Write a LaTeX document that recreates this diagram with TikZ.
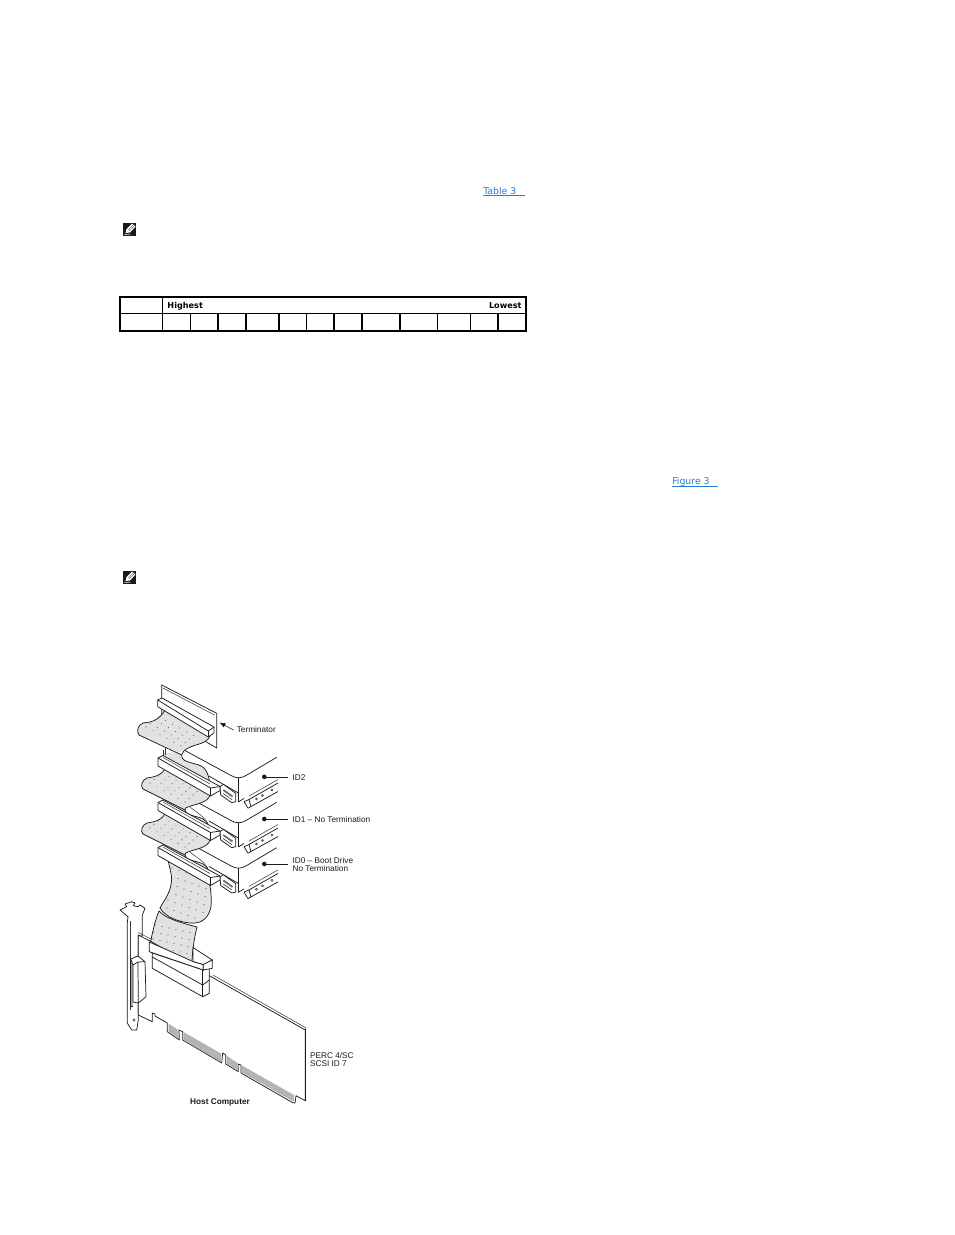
\documentclass[tikz,border=0pt]{standalone}
\usepackage{fontspec}
\usetikzlibrary{arrows.meta}
\setmainfont{Liberation Sans}
\newfontfamily\webfont{DejaVu Sans}
\definecolor{linkblue}{HTML}{2B7CD3}
\definecolor{ribbon}{HTML}{E2E2E2}
\definecolor{gold}{HTML}{B4B4B4}
\definecolor{ink}{HTML}{1A1A1A}
\tikzset{
  px/.style={x=0.75pt,y=-0.75pt},
  outline/.style={draw=ink,line width=0.55pt,line join=round},
  thin outline/.style={draw=ink!85,line width=0.4pt,line join=round},
  part/.style={outline,fill=white},
  band/.style={fill=ribbon},
  callout/.style={font=\fontsize{6.2pt}{6.2pt}\selectfont,text=ink,inner sep=0pt,anchor=west},
  tablehead/.style={font=\webfont\bfseries\fontsize{6.1pt}{6.1pt}\selectfont,inner sep=0pt},
  linktext/.style={font=\webfont\fontsize{7pt}{7pt}\selectfont,text=linkblue,inner sep=0pt,anchor=west},
  linkline/.style={draw=linkblue,line width=0.7pt},
  tableframe/.style={draw=black,line width=1.35pt},
  tablerule/.style={draw=black,line width=0.85pt},
}
\newcommand{\riserdot}[2]{\fill[ink!70] (#1,#2) circle[radius=0.55];}
% drive drawn with ID2 as base
\newcommand{\drivebody}[1]{%
 \begin{scope}[yshift={-0.75pt*(#1)}]
  \draw[outline] (184,750) -- (231,775.5) .. controls (236,778.5) and (241,778.5) .. (246,775.5) -- (276.7,757.3);
  \draw[outline] (238.3,778) -- (238.3,802);
  \draw[outline] (209,776) -- (238.3,793);
  \draw[part] (220,786.7) -- (223.3,784.3) -- (235.7,793.3) -- (235.7,801.7) -- (231.7,802.6) -- (220.7,795) -- cycle;
  \draw[ink!65,line width=1.3pt] (223.3,790) -- (232.5,796.5);
  \draw[ink,line width=0.4pt] (223,793.5) -- (232,799.6);
  \draw[outline] (238.3,802) -- (244,798.5);
  \draw[outline] (244,801.7) -- (249,799.5) -- (278,783);
  \draw[outline] (244,801.7) -- (248,808.2) -- (278,791.5);
  \draw[outline] (249,799.5) -- (251,806.7);
  \draw[thin outline] (249,796) -- (278,779.5);
  \draw[thin outline] (256.5,799) circle[radius=1.1];
  \draw[thin outline] (262.5,795.5) circle[radius=1.1];
  \draw[thin outline] (272,790) circle[radius=1.1];
 \end{scope}}
% drive-end connector on the ribbon, with ID1 connector as base
\newcommand{\cable}[1]{%
 \begin{scope}[yshift={-0.75pt*(#1)}]
  % lower loop behind the next connector
  \path[band] (165,806) -- (185,808) .. controls (186,816) and (198,816) .. (203,819) .. controls (208,822) and (210,826) .. (210,838) -- (170,815) -- cycle;
  \draw[outline] (185,810) .. controls (186,816) and (198,816) .. (203,819) .. controls (208,822) and (210,826) .. (210,836);
  \draw[thin outline] (190,807) .. controls (196,812) and (204,816) .. (208,824);
  % upper lobe
  \path[band] (166,766) .. controls (163,776) and (153,777) .. (147,778) .. controls (142,780) and (140,786) .. (143,789) -- (185,810) .. controls (185,808) and (186,807.5) .. (188,807) .. controls (195,804) and (208,803) .. (210,795) -- cycle;
  \draw[outline] (166,766) .. controls (163,776) and (153,777) .. (147,778) .. controls (142,780) and (140,786) .. (143,789) -- (185,810) .. controls (185,808) and (186,807.5) .. (188,807) .. controls (195,804) and (208,803) .. (210,795);
  \foreach \i in {0,...,5} \foreach \j in {0,...,3} {
    \riserdot{150+\i*7+\j*4}{783+\i*3.8-\j*3.5}
  }
 \end{scope}}
\newcommand{\plug}[1]{%
 \begin{scope}[yshift={-0.75pt*(#1)}]
  \draw[part] (158,758) -- (163,755.5) -- (220,786.5) -- (220,790.5) -- (210.5,796) -- (158,766) -- cycle;
  \draw[outline] (158,758) -- (210.5,788) -- (220,786.5);
  \draw[outline] (210.5,788) -- (210.5,796);
  \draw[thin outline] (163,757.5) -- (210,784);
 \end{scope}}
\begin{document}
\begin{tikzpicture}[px]
\useasboundingbox (0,0) rectangle (954,1235);

% ---- links
\node[linktext] (tablelink) at (483,190.8) {Table 3};
\coordinate (tablelinkA) at (483,195);
\coordinate (tablelinkB) at (525,195);
\draw[linkline] (tablelinkA) -- (tablelinkB);
\node[linktext] (figlink) at (672,482.4) {Figure 3};
\coordinate (figlinkA) at (672,486.2);
\coordinate (figlinkB) at (718,486.2);
\draw[linkline] (figlinkA) -- (figlinkB);

% ---- note icons
\foreach \iy in {229.5,577.5} {
  \begin{scope}[shift={(129.5,\iy)}]
    \fill[ink] (-6.3,-6.3) rectangle (6.3,6.3);
    \fill[white] (-4,3.5) -- (-3,-0.5) -- (2.5,-6) -- (6,-3) -- (0.5,3) -- cycle;
    \draw[ink!70,line width=0.3pt] (-1.5,0.6) -- (3.5,-4.4) (-0.4,1.6) -- (4.5,-3.5);
    \draw[white,line width=0.4pt] (-5,5) -- (1,4.6);
  \end{scope}
}

% ---- table
\draw[tableframe] (119.8,297) rectangle (526.3,330.6);
\draw[tablerule] (119.8,313.3) -- (526.3,313.3);
\draw[tablerule] (162.3,297) -- (162.3,330.6);
\foreach \vx in {190.3,218,246,279,306.7,334,362,400,437.3,470.3,498} {
  \draw[tablerule] (\vx,313.3) -- (\vx,330.6);
}
\node[tablehead,anchor=west] (high) at (167.2,305.8) {Highest};
\node[tablehead,anchor=east] (low) at (521.8,305.8) {Lowest};

% ---- drives
\drivebody{0}
\drivebody{45}
\drivebody{90.4}

% ---- terminator plate
\draw[part] (161.7,685) -- (216.7,713.3) -- (216.7,748) -- (161.7,716) -- cycle;
\draw[thin outline] (163,688) -- (214.5,715);

% ---- ribbon 1
\path[band] (165,710) .. controls (158,722) and (150,722) .. (143,723) .. controls (138,725) and (136,731) .. (139,735) -- (182,754) -- (181.7,757) .. controls (183,764) and (198,762) .. (204,768) .. controls (208,772) and (210,780) .. (210,795) -- (164,768) -- (164,753) -- (181,752) .. controls (183,749) and (190,747) .. (196,745) .. controls (203,743) and (208,741) .. (210,736) -- cycle;
\draw[outline] (165,710) .. controls (158,722) and (150,722) .. (143,723) .. controls (138,725) and (136,731) .. (139,735) -- (181.7,755);
\draw[outline] (210,736) .. controls (208,741) and (203,743) .. (196,745) .. controls (190,747) and (183,749) .. (181.7,755) .. controls (181,764) and (198,762) .. (204,768) .. controls (208,772) and (210,780) .. (210,790);
\draw[thin outline] (163.5,750) -- (163.5,757);
\draw[thin outline] (165.5,748) -- (165.5,755);
\foreach \i in {0,...,5} \foreach \j in {0,...,3} {
  \riserdot{146+\i*7+\j*4.2}{727+\i*3.8-\j*3.5}
}

% ---- ribbons 2 and 3
\cable{0}
\cable{45}

% ---- last riser
\begin{scope}
 \path[clip] (160,855) -- (208,876) .. controls (210,885) and (212,895) .. (211,907) .. controls (208,920) and (200,924) .. (190,923) .. controls (180,922) and (166,918) .. (160,908) .. controls (163,902) and (169,895) .. (171,885) .. controls (173,878) and (170,870) .. (168,860) -- cycle;
 \fill[ribbon] (150,850) rectangle (220,930);
 \foreach \i in {0,...,5} \foreach \j in {0,...,7} {
   \riserdot{172+\i*7-\j*1}{868+\j*8+\i*2.5}
 }
\end{scope}
\draw[outline] (168,860) .. controls (170,870) and (173,878) .. (171,885) .. controls (169,895) and (163,902) .. (160,908) .. controls (166,918) and (180,922) .. (190,923) .. controls (200,924) and (208,920) .. (211,907) .. controls (212,895) and (210,885) .. (208,876);
\begin{scope}
 \path[clip] (159,911) .. controls (165,918) and (178,922) .. (197,927) .. controls (195,935) and (193,945) .. (192,962) -- (150,945) .. controls (152,935) and (155,920) .. (159,911) -- cycle;
 \fill[ribbon] (145,905) rectangle (200,965);
 \foreach \i in {0,...,5} \foreach \j in {0,...,4} {
   \riserdot{155+\i*7-\j*1}{925+\j*7+\i*1.5}
 }
\end{scope}
\draw[outline] (159,911) .. controls (165,918) and (178,922) .. (197,927) .. controls (195,935) and (193,945) .. (192,960);
\draw[outline] (159,911) .. controls (155,920) and (152,935) .. (150,944);

% ---- plugs on the ribbon
\draw[part] (157.7,700) -- (162,698) -- (214,727) -- (214,733) -- (208.3,737) -- (157.7,706.7) -- cycle;
\draw[outline] (157.7,700) -- (208.3,731) -- (214,727);
\draw[outline] (208.3,731) -- (208.3,737);
\plug{0}
\plug{44.5}
\plug{89.5}

% ---- bracket
\draw[part] (120,910) -- (126.7,906.7) -- (125,904) -- (131.7,901.7) -- (135,903) -- (133.3,905.7) -- (138,906.7) -- (140,905) -- (145,908.3) -- (142.3,915) -- (142.3,936) -- (138.3,936) -- (138.3,1020) -- (136.7,1030) -- (131.7,1030) -- (127.3,1023) -- (127.3,923) -- (128,916.7) -- cycle;
\draw[thin outline] (130,921) -- (130,1010);
\draw[thin outline] (134,1020) circle[radius=1.3];

% ---- board
\draw[part] (138.3,935) -- (152,942) -- (211.7,977) -- (305.3,1030) -- (305.3,1100.7) -- (296,1095.7) -- (295,1103) -- (292.7,1102.7) -- (241,1073) -- (241,1065) -- (238,1064) -- (238.3,1071.7) -- (225.7,1064) -- (225.7,1055) -- (222.7,1053) -- (221.7,1063) -- (182.7,1040) -- (182.7,1031.7) -- (179,1030) -- (179.3,1040) -- (167.3,1031.7) -- (167.3,1023) -- (155,1016) -- (155,1014) -- (152.3,1013) -- (152.3,1021.7) -- (138.3,1015) -- cycle;
\draw[thin outline] (138.3,932.5) -- (152,939.5);
\draw[thin outline] (213,975) -- (305.3,1027.5) -- (305.3,1030);
\draw[ink,line width=1.1pt] (305.3,1029) -- (305.3,1100.7);
\fill[gold] (168.5,1023.5) -- (178.5,1030) -- (178.5,1038.5) -- (168.5,1031.5) -- cycle;
\fill[gold] (183.5,1032) -- (221,1053.5) -- (221,1062) -- (183.5,1040) -- cycle;
\fill[gold] (226.5,1055.5) -- (237.5,1063) -- (237.5,1070.5) -- (226.5,1063.5) -- cycle;
\fill[gold] (242,1065.5) -- (294,1095) -- (294,1101.8) -- (242,1072.5) -- cycle;

% ---- D connector (in front of the board)
\fill[gold] (130.7,962) rectangle (133.2,1007);
\draw[part] (130.7,959) -- (138,956) -- (145,961.7) -- (146,996.7) -- (138.3,1003) -- (133,1002) -- (133,965) -- cycle;
\draw[outline] (130.7,959) -- (130.7,1007) -- (133,1006);
\draw[outline] (133,965) -- (138,962) -- (145,961.7);
\draw[outline] (138,962) -- (138.3,1003);

% ---- host connector
\draw[part] (152.3,953) -- (152.3,968.3) -- (202.7,996.7) -- (209.3,993.3) -- (209.3,968) -- (203.3,970) -- cycle;
\draw[outline] (152.3,957) -- (202.7,985) -- (209.3,980);
\draw[outline] (202.7,970) -- (202.7,996.7);
\draw[part] (149.3,942) -- (193,961.5) -- (203.3,964.5) -- (203.3,970) -- (149.3,951.7) -- cycle;
\draw[part] (193,947.5) -- (212.3,960) -- (203.3,964.5) -- (193,961.5) -- cycle;
\draw[part] (212.3,960) -- (212.3,968.3) -- (203.3,970) -- (203.3,964.5) -- cycle;

% ---- callouts
\node[callout] (term) at (236.5,730) {Terminator};
\coordinate (termtip) at (219.5,722.5);
\draw[ink,line width=0.4pt,-{Latex[length=4.5pt,width=3.5pt]}] (term.west) ++(-3,0) -- (termtip);

\node[callout] (id2) at (292.3,777.3) {ID2};
\node[callout] (id1) at (292.3,819.5) {ID1 – No Termination};
\node[callout,align=left,font=\fontsize{6.2pt}{6.1pt}\selectfont] (id0) at (292.3,864.3) {ID0 – Boot Drive\\No Termination};
\coordinate (d2) at (264.3,776.8);
\coordinate (d1) at (264.3,819);
\coordinate (d0) at (264.3,864);
\foreach \dotname in {d2,d1,d0} {
  \fill[ink] (\dotname) circle[radius=2.3];
  \draw[ink,line width=0.4pt] (\dotname) -- ++(24,0);
}

\node[callout,align=left,font=\fontsize{6.2pt}{6.2pt}\selectfont] (perc) at (309.8,1059.6) {PERC 4/SC\\SCSI ID 7};
\node[callout,font=\bfseries\fontsize{6.2pt}{6.2pt}\selectfont,anchor=center] (host) at (220,1102.6) {Host Computer};
\end{tikzpicture}
\end{document}
